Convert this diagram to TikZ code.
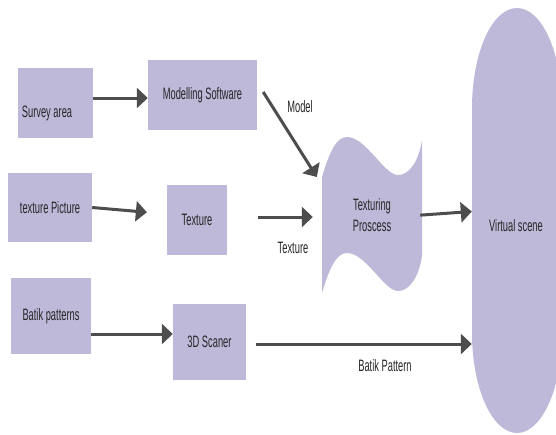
\documentclass[tikz,border=0pt]{standalone}
\usepackage{fontspec}
\setmainfont{Liberation Sans}[FakeStretch=0.565]
\usetikzlibrary{positioning, arrows.meta}
\definecolor{lav}{RGB}{190,184,217}
\definecolor{arrgray}{RGB}{77,77,77}
\definecolor{txtgray}{RGB}{38,38,38}
\tikzset{
    box/.style={
        rectangle,
        fill=lav, % 淡紫色填充
        inner sep=0,
        text=txtgray,
        font=\fontsize{16.5}{21}\selectfont
    },
    txt/.style={
        inner sep=0,
        text=txtgray,
        align=center,
        font=\fontsize{16.5}{21}\selectfont
    },
    arr/.style={
        draw=arrgray,
        line width=3pt, % 箭头线加粗
        -{Triangle[length=11pt,width=20pt]}
    }
}

\begin{document}
\begin{tikzpicture}[x=1pt, y=-1pt]
    \useasboundingbox (0,0) rectangle (556,434);
    % 虚拟场景 (椭圆端)
    \fill[lav] (472,108) .. controls (472,53) and (492,8) .. (517,8)
        .. controls (542,8) and (562,53) .. (562,108) -- (562,333)
        .. controls (562,388) and (542,433) .. (517,433)
        .. controls (492,433) and (472,388) .. (472,333) -- cycle;
    % 纹理处理 (波浪形)
    \fill[lav] (322,177) .. controls (330,150) and (337,137) .. (347,137)
        .. controls (366,137) and (384,175) .. (398,175)
        .. controls (410,175) and (419,160) .. (422,140) -- (422,256)
        .. controls (419,276) and (410,291) .. (398,291)
        .. controls (384,291) and (366,253) .. (347,253)
        .. controls (337,253) and (330,266) .. (322,293) -- cycle;

    % 节点
    \node[box, minimum width=75pt, minimum height=70pt] (survey) at (55.5,103) {};
    \node[txt] (surveytxt) at (47,113) {Survey area};
    \node[box, minimum width=109pt, minimum height=70pt] (modsw) at (202.5,95) {Modelling Software};
    \node[box, minimum width=84pt, minimum height=69pt] (texpic) at (50,207.5) {texture Picture};
    \node[box, minimum width=60pt, minimum height=70pt] (texture) at (197,220) {Texture};
    \node[box, minimum width=80pt, minimum height=76pt] (batik) at (51,316) {Batik patterns};
    \node[box, minimum width=73pt, minimum height=76pt] (scanner) at (209.5,342) {3D Scaner};
    \node[txt, minimum width=100pt, minimum height=156pt] (tproc) at (372,215) {Texturing\\Proscess};
    \node[txt, minimum width=90pt, minimum height=425pt] (vscene) at (517,220.5) {};
    \node[txt] (vscenetxt) at (516,226) {Virtual scene};

    % 连线
    \draw[arr] ([yshift=5pt]survey.east) -- ([yshift=-3pt]modsw.west);
    \draw[arr] ([xshift=6pt,yshift=3pt]modsw.east) -- ([xshift=-5pt,yshift=38pt]tproc.west);
    \draw[arr, shorten >=20pt] (texpic.east) -- ([yshift=6pt]texture.west);
    \draw[arr, shorten <=31pt, shorten >=9pt] ([yshift=3pt]texture.east) -- ([yshift=-2pt]tproc.west);
    \draw[arr, shorten <=-2pt] (tproc.east) -- ([yshift=9pt]vscene.west);
    \draw[arr] ([yshift=-18pt]batik.east) -- ([yshift=8pt]scanner.west);
    \draw[arr, shorten <=10pt] ([yshift=-2pt]scanner.east) -- ([yshift=-123.5pt]vscene.west);

    % 标签
    \node[txt] (modellbl) at (300,107) {Model};
    \node[txt] (texlbl) at (293,248) {Texture};
    \node[txt] (batiklbl) at (385,366) {Batik Pattern};
\end{tikzpicture}
\end{document}
